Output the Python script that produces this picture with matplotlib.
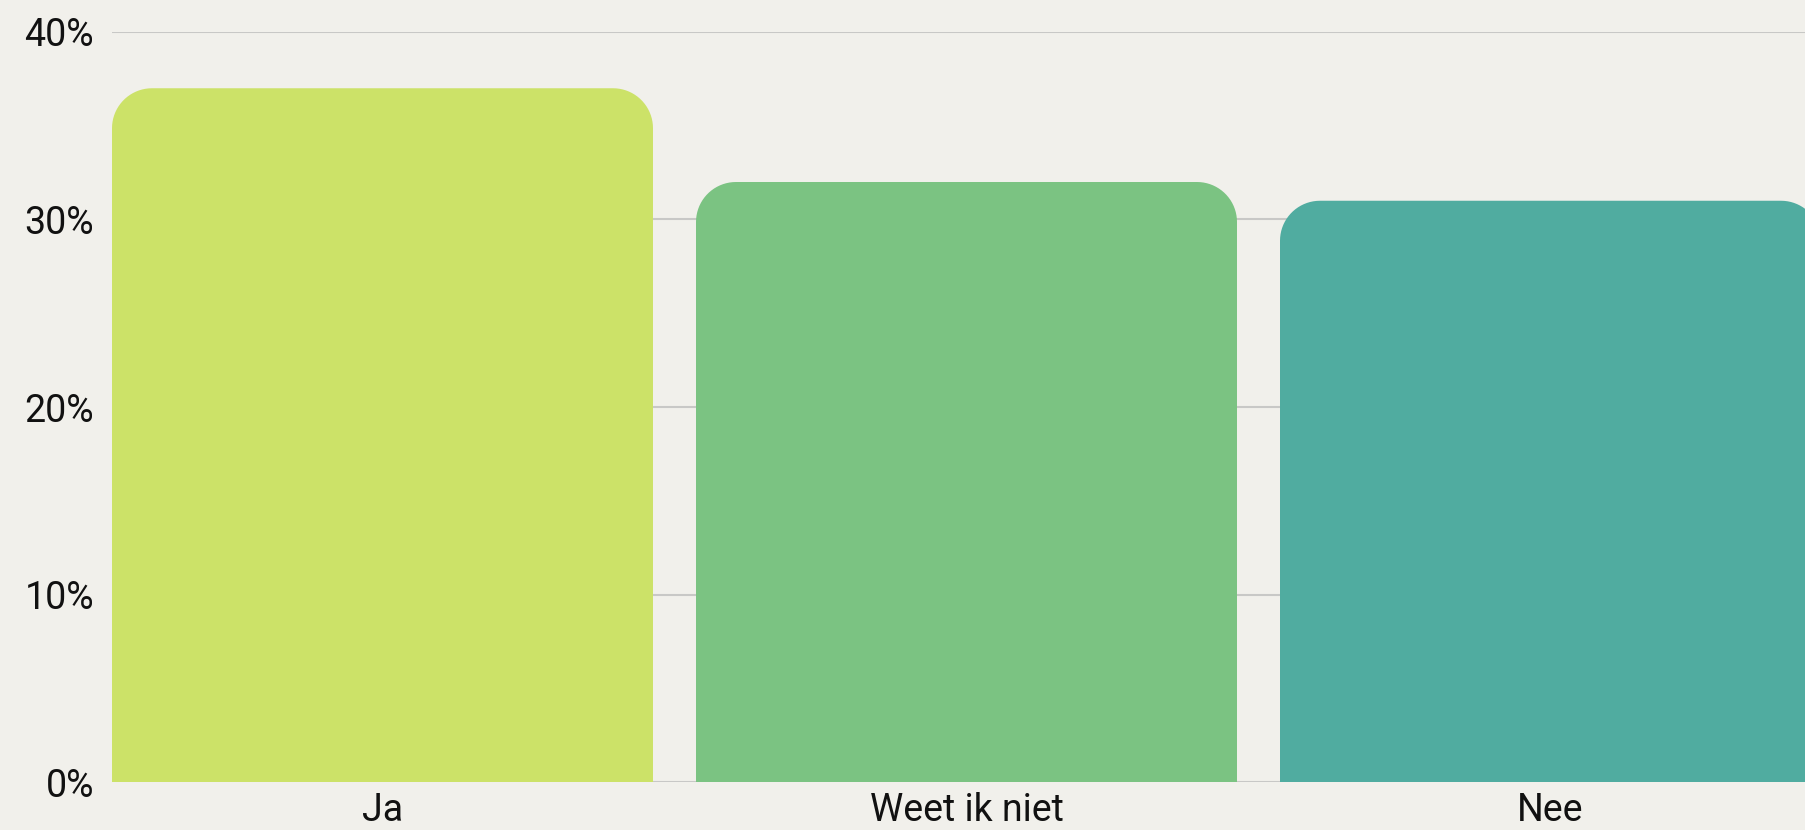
import numpy as np
import matplotlib
matplotlib.use("Agg")
import matplotlib.pyplot as plt
from matplotlib.path import Path
from matplotlib.patches import PathPatch
from matplotlib.ticker import FuncFormatter

plt.rcParams.update({
    "font.family": ["Roboto", "DejaVu Sans"],
    "font.size": 27,
})

# --- data ---
categories = ["Ja", "Weet ik niet", "Nee"]
values = [37, 32, 31]
colors = ["#cce268", "#7bc382", "#50aca0"]
yticks = [0, 10, 20, 30, 40]

BG = "#f1f0eb"
GRID = "#c8c8c6"


def rounded_top(x0, y0, w, h, rx, ry):
    # bar path with rounded top corners (radius given in data units per axis)
    t = np.linspace(0, np.pi / 2, 20)
    pts = [(x0, y0), (x0, y0 + h - ry)]
    # top-left corner
    pts += list(zip(x0 + rx - rx * np.cos(t), y0 + h - ry + ry * np.sin(t)))
    # top-right corner
    pts += list(zip(x0 + w - rx + rx * np.sin(t), y0 + h - ry + ry * np.cos(t)))
    pts += [(x0 + w, y0), (x0, y0)]
    codes = [Path.MOVETO] + [Path.LINETO] * (len(pts) - 2) + [Path.CLOSEPOLY]
    return Path(pts, codes)


fig = plt.figure(figsize=(18.06, 8.30), dpi=100, facecolor=BG)
ax = fig.add_axes([112 / 1806, 1 - 782 / 830, 1 - 112 / 1806, (782 - 32) / 830])
ax.set_facecolor(BG)

x = np.arange(len(categories))
width = 541 / 584
bars = ax.bar(x, values, width=width, color=colors)

ax.set_ylim(0, 40)
ax.set_xlim(-width / 2, -width / 2 + (1806 - 112) / 584)

# swap plain rectangles for rounded-top versions
rx = 40 / 584
ry = 40 / ((782 - 32) / 40)
for b in bars:
    p = rounded_top(b.get_x(), b.get_y(), b.get_width(), b.get_height(), rx, ry)
    patch = PathPatch(p, facecolor=b.get_facecolor(), edgecolor="none", zorder=2)
    ax.add_patch(patch)
    b.set_visible(False)

ax.set_yticks(yticks)
ax.yaxis.set_major_formatter(FuncFormatter(lambda v, _: f"{v:.0f}%"))
ax.set_xticks(x)
ax.set_xticklabels(categories)
ax.tick_params(axis="both", length=0, colors="#111111")
ax.tick_params(axis="y", pad=13)
ax.tick_params(axis="x", pad=7)

ax.grid(axis="y", color=GRID, linewidth=1.5, zorder=0)
ax.set_axisbelow(True)
for s in ax.spines.values():
    s.set_visible(False)

fig.savefig("out.png", dpi=100, facecolor=BG)
